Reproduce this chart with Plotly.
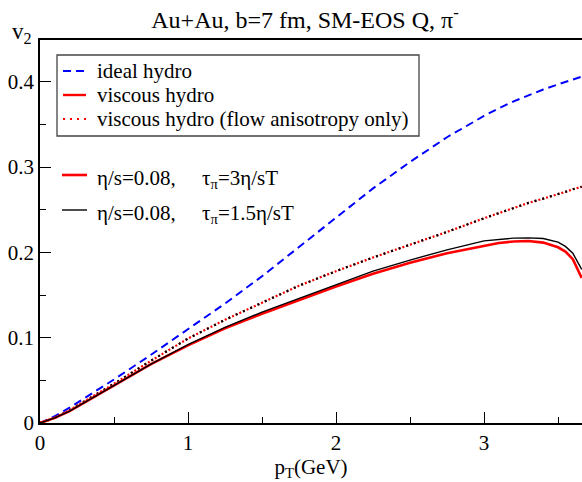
import plotly.graph_objects as go

# ---------------- data ----------------
pt = [0, 0.1, 0.2, 0.3, 0.5, 0.75, 1.0, 1.25, 1.5, 1.75, 2.0, 2.25, 2.5, 2.75,
      3.0, 3.1, 3.2, 3.3, 3.4, 3.5, 3.55, 3.6, 3.66]

v2_ideal = [0, 0.008, 0.018, 0.029, 0.051, 0.080, 0.110, 0.140, 0.172, 0.206,
            0.240, 0.275, 0.306, 0.335, 0.360, 0.369, 0.377, 0.384, 0.391,
            0.397, 0.400, 0.403, 0.406]

v2_flow_only = [0, 0.006, 0.015, 0.025, 0.046, 0.073, 0.099, 0.121, 0.141, 0.161,
                0.178, 0.194, 0.209, 0.224, 0.240, 0.246, 0.252, 0.258, 0.263,
                0.268, 0.271, 0.274, 0.277]

v2_visc_tau3 = [0, 0.006, 0.014, 0.024, 0.045, 0.069, 0.091, 0.111, 0.128, 0.144,
                0.160, 0.175, 0.188, 0.199, 0.208, 0.211, 0.2128, 0.2134, 0.2115,
                0.206, 0.201, 0.192, 0.170]

v2_visc_tau15 = [0, 0.006, 0.014, 0.024, 0.045, 0.069, 0.092, 0.112, 0.130, 0.146,
                 0.162, 0.178, 0.191, 0.203, 0.2135, 0.2155, 0.2167, 0.217, 0.2163,
                 0.212, 0.207, 0.199, 0.180]

x_ticks = [0, 1, 2, 3]
y_ticks = [0, 0.1, 0.2, 0.3, 0.4]
y_tick_text = ["0", "0.1", "0.2", "0.3", "0.4"]

legend_box_labels = ["ideal hydro", "viscous hydro", "viscous hydro (flow anisotropy only)"]
GAP = "\u00a0" * 5
legend_free_labels = ["η/s=0.08," + GAP + "τ<sub>π</sub>=3η/sT",
                      "η/s=0.08," + GAP + "τ<sub>π</sub>=1.5η/sT"]

FONT = "Liberation Serif"

fig = go.Figure()

fig.add_trace(go.Scatter(x=pt, y=v2_ideal, mode="lines", name="ideal hydro",
                         line=dict(color="#0000ff", width=2, dash="8px,5px"),
                         showlegend=False))
fig.add_trace(go.Scatter(x=pt, y=v2_flow_only, mode="lines", name="flow only (τπ=3η/sT)",
                         line=dict(color="#ff0000", width=2.2, dash="2px,2px"),
                         showlegend=False))
fig.add_trace(go.Scatter(x=pt, y=v2_flow_only, mode="lines", name="flow only (τπ=1.5η/sT)",
                         line=dict(color="#000000", width=2.2, dash="2px,6px"),
                         showlegend=False))
fig.add_trace(go.Scatter(x=pt, y=v2_visc_tau3, mode="lines", name="τπ=3η/sT",
                         line=dict(color="#ff0000", width=2.6),
                         showlegend=False))
fig.add_trace(go.Scatter(x=pt, y=v2_visc_tau15, mode="lines", name="τπ=1.5η/sT",
                         line=dict(color="#000000", width=1.4),
                         showlegend=False))

# ---------------- legends (drawn as annotations + sample lines) ----------------
shapes = []
annotations = []

def px_x(p):
    return (p - 40) / 542.0

def px_y(p):
    return (423 - p) / 383.0

shapes.append(dict(type="rect", xref="paper", yref="paper",
                   x0=px_x(57), x1=px_x(419), y0=px_y(136), y1=px_y(55),
                   line=dict(color="#444444", width=1.3), fillcolor="rgba(0,0,0,0)"))

box_styles = [dict(color="#0000ff", width=2, dash="8px,5px"),
              dict(color="#ff0000", width=2.4),
              dict(color="#ff0000", width=2.2, dash="2px,5px")]
box_rows = [71, 95, 119]
for lab, sty, row in zip(legend_box_labels, box_styles, box_rows):
    shapes.append(dict(type="line", xref="paper", yref="paper",
                       x0=px_x(63), x1=px_x(86), y0=px_y(row), y1=px_y(row), line=sty))
    annotations.append(dict(xref="paper", yref="paper", x=px_x(95), y=px_y(row),
                            xanchor="left", yanchor="middle", showarrow=False,
                            text=lab, font=dict(family=FONT, size=21, color="black")))

free_styles = [dict(color="#ff0000", width=2.6), dict(color="#000000", width=1.4)]
free_rows = [175, 210]
for lab, sty, row in zip(legend_free_labels, free_styles, free_rows):
    shapes.append(dict(type="line", xref="paper", yref="paper",
                       x0=px_x(62), x1=px_x(87), y0=px_y(row), y1=px_y(row), line=sty))
    annotations.append(dict(xref="paper", yref="paper", x=px_x(95), y=px_y(row + 4),
                            xanchor="left", yanchor="middle", showarrow=False,
                            text=lab, font=dict(family=FONT, size=21, color="black")))

# y-axis label at top-left
annotations.append(dict(xref="paper", yref="paper", x=px_x(10), y=px_y(33),
                        xanchor="left", yanchor="middle", showarrow=False,
                        text="v<sub>2</sub>", font=dict(family=FONT, size=23, color="black")))

fig.update_layout(
    width=582, height=482,
    margin=dict(l=40, r=0, t=40, b=59),
    paper_bgcolor="white", plot_bgcolor="white",
    font=dict(family=FONT, size=21, color="black"),
    title=dict(text="Au+Au, b=7 fm, SM-EOS Q, π<sup>-</sup>",
               x=(305 - 0) / 582.0, xanchor="center", y=1 - 20 / 482.0, yanchor="middle",
               font=dict(family=FONT, size=24, color="black")),
    shapes=shapes, annotations=annotations,
    showlegend=False,
)

fig.update_xaxes(range=[0, 3.662], tickvals=x_ticks, showgrid=False, zeroline=False,
                 showline=True, linecolor="black", linewidth=1.5, mirror=True,
                 ticks="inside", ticklen=11, tickwidth=1.2, tickcolor="black",
                 minor=dict(ticks="inside", dtick=0.5, ticklen=6, tickwidth=1.2,
                            tickcolor="black", showgrid=False),
                 tickfont=dict(family=FONT, size=21),
                 title=dict(text="p<sub>T</sub>(GeV)", standoff=4,
                            font=dict(family=FONT, size=21)))
fig.update_yaxes(range=[0, 0.449], tickvals=y_ticks, ticktext=y_tick_text,
                 showgrid=False, zeroline=False,
                 showline=True, linecolor="black", linewidth=1.5, mirror=False,
                 ticks="inside", ticklen=11, tickwidth=1.2, tickcolor="black",
                 minor=dict(ticks="inside", dtick=0.05, ticklen=6, tickwidth=1.2,
                            tickcolor="black", showgrid=False),
                 tickfont=dict(family=FONT, size=21))

fig.write_html("out.html")
